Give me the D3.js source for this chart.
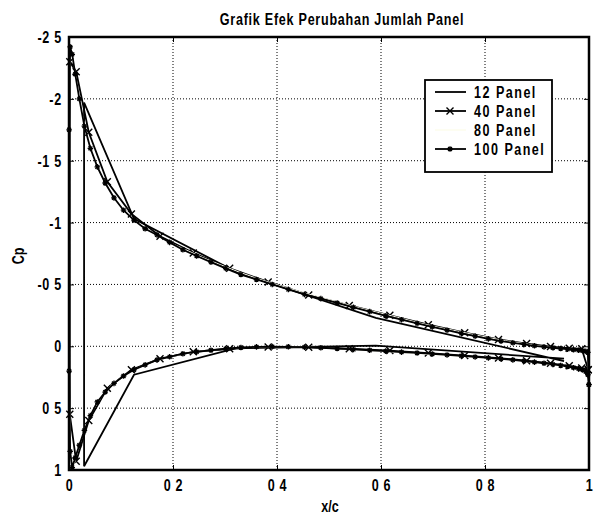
<!DOCTYPE html>
<html>
<head>
<meta charset="utf-8">
<script src="https://cdn.jsdelivr.net/npm/d3@7"></script>
<style>
  body { margin: 0; background: #fff; }
  text { font-family: "Liberation Sans", Arial, sans-serif; font-weight: bold; fill: #000; }
</style>
</head>
<body>
<svg id="chart" width="602" height="518"></svg>
<script>
// axis ticks
var xTicks = [0, 0.2, 0.4, 0.6, 0.8, 1];
var xTickLabels = ["0", "0 2", "0 4", "0 6", "0 8", "1"];
var yTicks = [-2.5, -2, -1.5, -1, -0.5, 0, 0.5, 1];
var yTickLabels = ["-2 5", "-2", "-1 5", "-1", "-0 5", "0", "0 5", "1"];
var seriesNames = ["12 Panel", "40 Panel", "80 Panel", "100 Panel"];

// 12 panels: control points, lower and upper surface
var x12 = [0.029, 0.125, 0.322, 0.59, 0.952];
var cp12Lower = [0.97, 0.23, 0.015, -0.005, 0.10];
var cp12Upper = [-1.97, -1.03, -0.6, -0.23, 0.12];

// 40 panels
var x40 = [0.0015, 0.0138, 0.038, 0.0737, 0.120, 0.175, 0.239, 0.309, 0.383, 0.461,
           0.539, 0.617, 0.691, 0.761, 0.826, 0.880, 0.926, 0.962, 0.986, 0.9985];
var cp40Lower = [0.55, 0.93, 0.6, 0.34, 0.19, 0.1, 0.045, 0.02, 0.006, 0.008,
                 0.02, 0.035, 0.055, 0.075, 0.095, 0.117, 0.138, 0.158, 0.175, 0.19];
var cp40Upper = [-2.3, -2.22, -1.73, -1.33, -1.07, -0.89, -0.755, -0.63, -0.52, -0.415,
                 -0.33, -0.25, -0.175, -0.11, -0.055, -0.022, 0.002, 0.015, 0.02, 0.19];

// 80 panels
var x80 = [0.0004, 0.0035, 0.0096, 0.0188, 0.0309, 0.0459, 0.0637, 0.0843, 0.1073, 0.1327,
           0.1605, 0.1904, 0.2222, 0.2557, 0.2907, 0.3270, 0.3643, 0.4025, 0.4412, 0.4804,
           0.5196, 0.5588, 0.5975, 0.6357, 0.6730, 0.7093, 0.7443, 0.7778, 0.8096, 0.8395,
           0.8673, 0.8927, 0.9157, 0.9363, 0.9541, 0.9691, 0.9812, 0.9904, 0.9965, 0.9996];
var cp80Lower = [0.3, 0.92, 0.96, 0.8, 0.66, 0.52, 0.4, 0.3, 0.235, 0.175,
                 0.125, 0.09, 0.06, 0.04, 0.025, 0.012, 0.006, 0.004, 0.005, 0.01,
                 0.02, 0.03, 0.04, 0.05, 0.06, 0.07, 0.08, 0.088, 0.097, 0.107,
                 0.117, 0.13, 0.142, 0.155, 0.165, 0.175, 0.188, 0.2, 0.22, 0.28];
var cp80Upper = [-1.9, -2.44, -2.27, -2.02, -1.76, -1.55, -1.37, -1.21, -1.09, -0.99,
                 -0.92, -0.845, -0.785, -0.72, -0.66, -0.6, -0.545, -0.495, -0.445, -0.4,
                 -0.355, -0.31, -0.27, -0.23, -0.19, -0.155, -0.125, -0.095, -0.068, -0.045,
                 -0.027, -0.01, 0.003, 0.013, 0.02, 0.027, 0.033, 0.038, 0.045, 0.28];

// 100 panels
var x100 = [0.00025, 0.0022, 0.0062, 0.0120, 0.0199, 0.0296, 0.0411, 0.0545, 0.0696, 0.0865,
            0.1049, 0.1249, 0.1464, 0.1693, 0.1935, 0.2190, 0.2455, 0.2730, 0.3014, 0.3306,
            0.3605, 0.3909, 0.4218, 0.4529, 0.4843, 0.5157, 0.5471, 0.5782, 0.6091, 0.6395,
            0.6694, 0.6986, 0.7270, 0.7545, 0.7810, 0.8065, 0.8307, 0.8536, 0.8751, 0.8951,
            0.9135, 0.9304, 0.9455, 0.9589, 0.9704, 0.9801, 0.9880, 0.9938, 0.9978, 0.99975];
var cp100Lower = [0.2, 0.85, 0.98, 0.9, 0.8, 0.68, 0.56, 0.45, 0.37, 0.3,
                  0.24, 0.19, 0.15, 0.11, 0.085, 0.06, 0.045, 0.032, 0.02, 0.01,
                  0.005, 0.003, 0.004, 0.007, 0.012, 0.018, 0.025, 0.032, 0.039, 0.047,
                  0.054, 0.062, 0.07, 0.078, 0.086, 0.094, 0.102, 0.11, 0.119, 0.128,
                  0.137, 0.146, 0.155, 0.164, 0.173, 0.182, 0.192, 0.205, 0.23, 0.31];
var cp100Upper = [-1.75, -2.42, -2.36, -2.2, -2.0, -1.78, -1.6, -1.45, -1.32, -1.2,
                  -1.1, -1.02, -0.95, -0.9, -0.84, -0.78, -0.73, -0.68, -0.63, -0.58,
                  -0.54, -0.5, -0.46, -0.42, -0.385, -0.35, -0.315, -0.28, -0.245, -0.215,
                  -0.185, -0.157, -0.13, -0.105, -0.082, -0.06, -0.042, -0.028, -0.015, -0.004,
                  0.005, 0.012, 0.018, 0.023, 0.028, 0.032, 0.036, 0.04, 0.05, 0.31];

// go round the airfoil: lower surface from the trailing edge, then upper surface back
function outline(xs, lower, upper) {
  var pts = [];
  for (var i = xs.length - 1; i >= 0; i--) pts.push([xs[i], lower[i]]);
  for (var j = 0; j < xs.length; j++) pts.push([xs[j], upper[j]]);
  return pts;
}

var svg = d3.select("#chart");
var axL = 69, axR = 589, axT = 37, axB = 470;
var narrow = 0.74; // squeeze the glyphs horizontally
var lw = 1.8;

var x = d3.scaleLinear().domain([0, 1]).range([axL, axR]);
var y = d3.scaleLinear().domain([-2.5, 1]).range([axT, axB]);

// dotted grid
svg.append("g").selectAll("line")
  .data(xTicks.slice(1, -1))
  .enter().append("line")
  .attr("x1", function(d) { return x(d); }).attr("x2", function(d) { return x(d); })
  .attr("y1", axT).attr("y2", axB)
  .attr("stroke", "#000").attr("stroke-width", 1).attr("stroke-dasharray", "1,2");
svg.append("g").selectAll("line")
  .data(yTicks.slice(1, -1))
  .enter().append("line")
  .attr("y1", function(d) { return y(d); }).attr("y2", function(d) { return y(d); })
  .attr("x1", axL).attr("x2", axR)
  .attr("stroke", "#000").attr("stroke-width", 1).attr("stroke-dasharray", "1,2");

// axes with inward ticks
var xAxis = d3.axisBottom(x).tickValues(xTicks)
  .tickFormat(function(d, i) { return xTickLabels[i]; })
  .tickSizeInner(-5).tickSizeOuter(0).tickPadding(9);
var yAxis = d3.axisLeft(y).tickValues(yTicks)
  .tickFormat(function(d, i) { return yTickLabels[i]; })
  .tickSizeInner(-5).tickSizeOuter(0).tickPadding(7);

var gx = svg.append("g").attr("transform", "translate(0," + axB + ")").call(xAxis);
var gy = svg.append("g").attr("transform", "translate(" + axL + ",0)").call(yAxis);
svg.append("g").attr("transform", "translate(0," + axT + ")")
  .call(d3.axisTop(x).tickValues(xTicks).tickFormat("").tickSizeInner(-5).tickSizeOuter(0));
svg.append("g").attr("transform", "translate(" + axR + ",0)")
  .call(d3.axisRight(y).tickValues(yTicks).tickFormat("").tickSizeInner(-5).tickSizeOuter(0));
svg.selectAll(".domain").remove();
svg.selectAll(".tick line").attr("stroke", "#000").attr("stroke-width", 1);
gx.selectAll("text")
  .attr("font-family", null).attr("font-size", null).style("font-size", "17px")
  .style("letter-spacing", "1px")
  .attr("transform", "scale(" + narrow + ",1)");
gy.selectAll("text")
  .attr("font-family", null).attr("font-size", null).style("font-size", "17px")
  .style("letter-spacing", "1px")
  .attr("x", -7 / narrow)
  .attr("transform", "scale(" + narrow + ",1)");

var line = d3.line()
  .x(function(d) { return x(d[0]); })
  .y(function(d) { return y(d[1]); });

// markers
function crossPath(s) {
  return "M" + (-s) + "," + (-s) + "L" + s + "," + s + "M" + (-s) + "," + s + "L" + s + "," + (-s);
}
function starPath(s) {
  return "M" + (-s) + ",0L" + s + ",0M0," + (-s) + "L0," + s +
    "M" + (-s * 0.7) + "," + (-s * 0.7) + "L" + (s * 0.7) + "," + (s * 0.7) +
    "M" + (-s * 0.7) + "," + (s * 0.7) + "L" + (s * 0.7) + "," + (-s * 0.7);
}

var plot = svg.append("g");

var pts12 = outline(x12, cp12Lower, cp12Upper);
var pts40 = outline(x40, cp40Lower, cp40Upper);
var pts80 = outline(x80, cp80Lower, cp80Upper);
var pts100 = outline(x100, cp100Lower, cp100Upper);

plot.append("path").datum(pts12).attr("d", line)
  .attr("fill", "none").attr("stroke", "#000").attr("stroke-width", lw);

plot.append("path").datum(pts40).attr("d", line)
  .attr("fill", "none").attr("stroke", "#000").attr("stroke-width", lw);
plot.append("g").selectAll("path")
  .data(pts40).enter().append("path")
  .attr("transform", function(d) { return "translate(" + x(d[0]) + "," + y(d[1]) + ")"; })
  .attr("d", crossPath(3.5))
  .attr("stroke", "#000").attr("stroke-width", 1.4);

plot.append("path").datum(pts80).attr("d", line)
  .attr("fill", "none").attr("stroke", "#fdfdf0").attr("stroke-width", 1);

plot.append("path").datum(pts100).attr("d", line)
  .attr("fill", "none").attr("stroke", "#000").attr("stroke-width", lw);
plot.append("g").selectAll("path")
  .data(pts100).enter().append("path")
  .attr("transform", function(d) { return "translate(" + x(d[0]) + "," + y(d[1]) + ")"; })
  .attr("d", starPath(2.8))
  .attr("stroke", "#000").attr("stroke-width", 1.3);

// axes box
svg.append("rect")
  .attr("x", axL).attr("y", axT)
  .attr("width", axR - axL).attr("height", axB - axT)
  .attr("fill", "none").attr("stroke", "#000").attr("stroke-width", 2.5);

// text squeezed sideways around its anchor point
function label(px, py, str, size, anchor, rot) {
  var t = "translate(" + px + "," + py + ")" + (rot ? " rotate(" + rot + ")" : "") +
    " scale(" + narrow + ",1)";
  return svg.append("text").attr("transform", t)
    .attr("text-anchor", anchor).style("font-size", size + "px").text(str);
}

// legend
var legend = svg.append("g");
legend.append("rect")
  .attr("x", 425).attr("y", 80).attr("width", 127).attr("height", 92)
  .attr("fill", "#fff").attr("stroke", "#000").attr("stroke-width", 1.8);
var legendY = [92, 111, 130, 149];
var legendStroke = ["#000", "#000", "#fdfdf0", "#000"];
seriesNames.forEach(function(name, i) {
  var g = legend.append("g").attr("transform", "translate(0," + legendY[i] + ")");
  g.append("line").attr("x1", 435).attr("x2", 466).attr("y1", 0).attr("y2", 0)
    .attr("stroke", legendStroke[i]).attr("stroke-width", lw);
  if (i === 1) {
    g.append("path").attr("transform", "translate(450,0)").attr("d", crossPath(3.5))
      .attr("stroke", "#000").attr("stroke-width", 1.4);
  }
  if (i === 3) {
    g.append("path").attr("transform", "translate(450,0)").attr("d", starPath(2.8))
      .attr("stroke", "#000").attr("stroke-width", 1.3);
  }
  label(474, legendY[i] + 6, name, 17, "start").style("letter-spacing", "2px");
});

// title and axis labels
label(342, 25, "Grafik Efek Perubahan Jumlah Panel", 17, "middle").style("letter-spacing", "1px");
label(330, 512, "x/c", 17, "middle");
label(24, 256, "Cp", 17, "middle", -90);
</script>
</body>
</html>
